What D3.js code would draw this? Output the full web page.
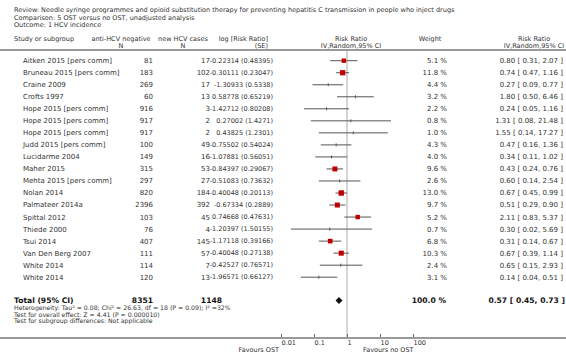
<!DOCTYPE html>
<meta charset="utf-8">
<style>
body { margin: 0; background: #fff; }
text { font-family: "DejaVu Sans", sans-serif; fill: #333; }
.small { font-size: 7px; }
.tiny { font-size: 6.5px; }
.foot { font-size: 6.2px; }
.bold { font-size: 7.6px; font-weight: bold; fill: #111; }
.ci { stroke: #555; stroke-width: 1; }
</style>
<body>
<script src="https://cdn.jsdelivr.net/npm/d3@7/dist/d3.min.js"></script>
<script>

// study rows
var studies = ["Aitken 2015 [pers comm]", "Bruneau 2015 [pers comm]", "Craine 2009", "Crofts 1997",
  "Hope 2015 [pers comm]", "Hope 2015 [pers comm]", "Hope 2015 [pers comm]", "Judd 2015 [pers comm]",
  "Lucidarme 2004", "Maher 2015", "Mehta 2015 [pers comm]", "Nolan 2014", "Palmateer 2014a",
  "Spittal 2012", "Thiede 2000", "Tsui 2014", "Van Den Berg 2007", "White 2014", "White 2014"];
var antiNeg = [81, 183, 269, 60, 916, 917, 917, 100, 149, 315, 297, 820, 2396, 103, 76, 407, 111, 114, 120];
var newCases = [17, 102, 17, 13, 3, 2, 2, 49, 16, 53, 27, 184, 392, 45, 4, 145, 57, 7, 13];
var logRR = ["-0.22314", "-0.30111", "-1.30933", "0.58778", "-1.42712", "0.27002", "0.43825", "-0.75502",
  "-1.07881", "-0.84397", "-0.51083", "-0.40048", "-0.67334", "0.74668", "-1.20397", "-1.17118",
  "-0.40048", "-0.42527", "-1.96571"];
var se = ["0.48395", "0.23047", "0.5338", "0.65219", "0.80208", "1.4271", "1.2301", "0.54024", "0.56051",
  "0.29067", "0.73632", "0.20113", "0.2889", "0.47631", "1.50155", "0.39166", "0.27138", "0.76571", "0.66127"];
var weights = [5.1, 11.8, 4.4, 3.2, 2.2, 0.8, 1.0, 4.3, 4.0, 9.6, 2.6, 13.0, 9.7, 5.2, 0.7, 6.8, 10.3, 2.4, 3.1];
var rr = [0.80, 0.74, 0.27, 1.80, 0.24, 1.31, 1.55, 0.47, 0.34, 0.43, 0.60, 0.67, 0.51, 2.11, 0.30, 0.31, 0.67, 0.65, 0.14];
var lo = [0.31, 0.47, 0.09, 0.50, 0.05, 0.08, 0.14, 0.16, 0.11, 0.24, 0.14, 0.45, 0.29, 0.83, 0.02, 0.14, 0.39, 0.15, 0.04];
var hi = [2.07, 1.16, 0.77, 6.46, 1.16, 21.48, 17.27, 1.36, 1.02, 0.76, 2.54, 0.99, 0.90, 5.37, 5.69, 0.67, 1.14, 2.93, 0.51];

// pooled result
var total = {antiNeg: 8351, newCases: 1148, weight: "100.0 %", rr: 0.57, lo: 0.45, hi: 0.73};
var tickValues = [0.01, 0.1, 1, 10, 100];

var W = 566, H = 361;
var svg = d3.select("body").append("svg").attr("width", W).attr("height", H);

var x = d3.scaleLog().domain([0.01, 100]).range([281, 413]);
var y = d3.scaleLinear().domain([0, studies.length - 1]).range([60.7, 277.2]);
var side = d3.scaleLinear().domain([5, 13]).range([4.4, 5.4]).clamp(true);
var f2 = d3.format(".2f");

function txt(xx, yy, s, anchor, cls) {
  return svg.append("text").attr("class", cls || "small").attr("x", xx).attr("y", yy)
    .attr("dy", "0.35em").attr("text-anchor", anchor || "start").text(s);
}

// header
txt(14, 10, "Review:  Needle syringe programmes and opioid substitution therapy for preventing hepatitis C transmission in people who inject drugs", "start", "tiny");
txt(14, 17.3, "Comparison:  5 OST versus no OST, unadjusted analysis", "start", "tiny");
txt(14, 24.4, "Outcome:  1 HCV incidence", "start", "tiny");

// column titles
txt(14, 38.5, "Study or subgroup", "start", "tiny");
txt(121, 38.5, "anti-HCV negative", "middle", "tiny");
txt(121, 45.5, "N", "middle", "tiny");
txt(183, 38.5, "new HCV cases", "middle", "tiny");
txt(183, 45.5, "N", "middle", "tiny");
txt(268, 38.5, "log [Risk Ratio]", "end", "tiny");
txt(268, 45.5, "(SE)", "end", "tiny");
txt(351, 38.5, "Risk Ratio", "middle", "tiny");
txt(351, 45.5, "IV,Random,95% CI", "middle", "tiny");
txt(430, 38.5, "Weight", "middle", "tiny");
txt(534, 38.5, "Risk Ratio", "middle", "tiny");
txt(534, 45.5, "IV,Random,95% CI", "middle", "tiny");

svg.append("line").attr("x1", 0).attr("x2", W).attr("y1", 50).attr("y2", 50)
  .attr("stroke", "#9a9a9a").attr("stroke-width", 2);

// no-effect line
svg.append("line").attr("x1", x(1)).attr("x2", x(1)).attr("y1", 51).attr("y2", 337)
  .attr("stroke", "#aaa").attr("stroke-width", 1);

// study rows
studies.forEach(function(s, i) {
  var yy = y(i);
  txt(23, yy, s);
  txt(153, yy, antiNeg[i], "end");
  txt(210, yy, newCases[i], "end");
  txt(273, yy, logRR[i] + " (" + se[i] + ")", "end", "tiny");
  txt(447, yy, weights[i].toFixed(1) + " %", "end");
  txt(563, yy, f2(rr[i]) + " [ " + f2(lo[i]) + ", " + f2(hi[i]) + " ]", "end");

  svg.append("line").attr("class", "ci")
    .attr("x1", x(lo[i])).attr("x2", x(hi[i])).attr("y1", yy).attr("y2", yy);

  if (weights[i] >= 5) {
    var s2 = side(weights[i]);
    svg.append("rect").attr("x", x(rr[i]) - s2 / 2).attr("y", yy - s2 / 2)
      .attr("width", s2).attr("height", s2).attr("fill", "#c00000");
  } else {
    svg.append("line").attr("x1", x(rr[i])).attr("x2", x(rr[i]))
      .attr("y1", yy - 1.5).attr("y2", yy + 1.5).attr("stroke", "#555").attr("stroke-width", 1);
  }
});

// total row
var ty = 300.5;
txt(14, ty, "Total (95% CI)", "start", "bold");
txt(153, ty, total.antiNeg, "end", "bold");
txt(222, ty, total.newCases, "end", "bold");
txt(446, ty, total.weight, "end", "bold");
txt(565, ty, f2(total.rr) + " [ " + f2(total.lo) + ", " + f2(total.hi) + " ]", "end", "bold");

svg.append("path")
  .attr("d", "M" + x(total.lo) + "," + ty + "L" + x(total.rr) + "," + (ty - 3.5) +
    "L" + x(total.hi) + "," + ty + "L" + x(total.rr) + "," + (ty + 3.5) + "Z")
  .attr("fill", "#111");

txt(14, 308.2, "Heterogeneity: Tau\u00b2 = 0.08; Chi\u00b2 = 26.63, df = 18 (P = 0.09); I\u00b2 =32%", "start", "foot");
txt(14, 314.6, "Test for overall effect: Z = 4.41 (P = 0.000010)", "start", "foot");
txt(14, 321, "Test for subgroup differences: Not applicable", "start", "foot");

// axis
svg.append("line").attr("x1", 0).attr("x2", W).attr("y1", 338).attr("y2", 338)
  .attr("stroke", "#9a9a9a").attr("stroke-width", 2);

var axis = svg.append("g").attr("transform", "translate(0,337)")
  .call(d3.axisBottom(x).tickValues(tickValues).tickFormat(d3.format("~g"))
    .tickSizeInner(-3).tickSizeOuter(0).tickPadding(2));
axis.select(".domain").remove();
axis.selectAll(".tick line").attr("stroke", "#666");
axis.selectAll(".tick text").attr("class", "tiny").attr("text-anchor", "start")
  .attr("font-family", null).attr("font-size", null).attr("y", 3).attr("dy", "0.71em");

txt(279, 350, "Favours OST", "end", "tiny");
txt(363, 350, "Favours no OST", "start", "tiny");

</script>
</body>
